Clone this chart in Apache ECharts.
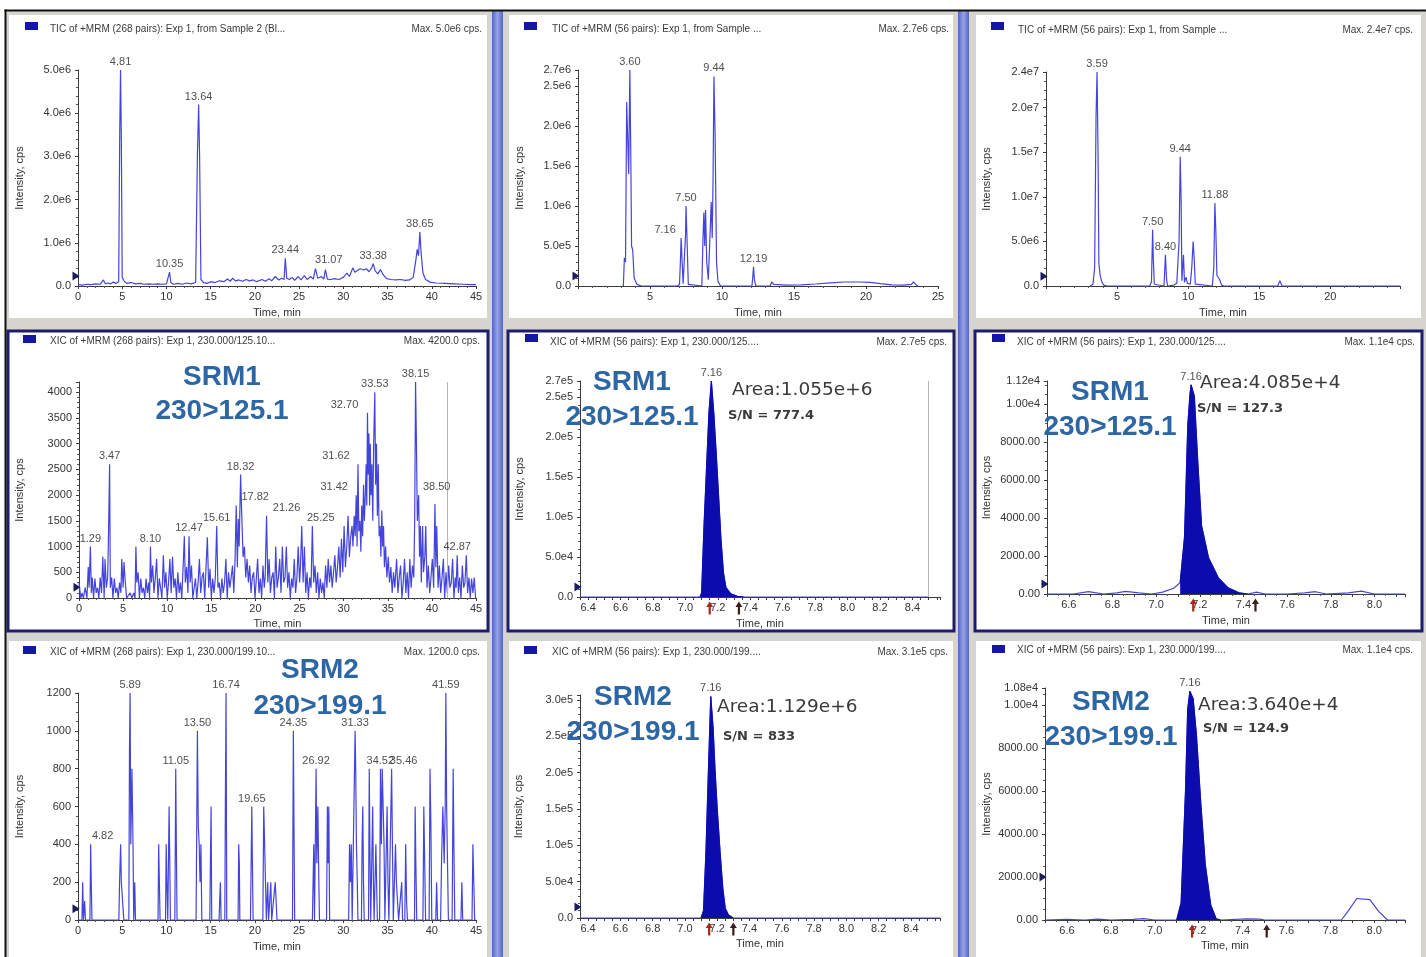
<!DOCTYPE html>
<html>
<head>
<meta charset="utf-8">
<script src="https://cdn.jsdelivr.net/npm/echarts@6/dist/echarts.min.js"></script>
<style>
html, body { margin: 0; padding: 0; background: #ffffff; }
#chart { width: 1426px; height: 957px; }
</style>
</head>
<body>
<div id="chart"></div>
<script>
// ---------------- chromatogram data: [time (min), intensity (cps)] ----------------

// TIC, 268 pairs
const p1Trace = [
  [0,0.03e6],[0.5,0.02e6],[1.0,0.04e6],[1.5,0.03e6],[2.0,0.05e6],[2.5,0.04e6],[2.87,0.14e6],[3.1,0.05e6],
  [3.4,0.07e6],[3.7,0.05e6],[4.0,0.09e6],[4.3,0.06e6],[4.6,0.1e6],[4.72,3.6e6],[4.81,5.0e6],[4.9,3.4e6],
  [5.0,0.2e6],[5.2,0.12e6],[5.5,0.06e6],[6.0,0.08e6],[6.5,0.05e6],[7.0,0.06e6],[7.5,0.04e6],[8.0,0.05e6],
  [8.5,0.04e6],[9.0,0.05e6],[9.5,0.04e6],[10.0,0.05e6],[10.2,0.08e6],[10.35,0.32e6],[10.5,0.08e6],[10.8,0.04e6],
  [11.3,0.06e6],[11.8,0.04e6],[12.3,0.07e6],[12.8,0.05e6],[13.3,0.08e6],[13.5,3.0e6],[13.64,4.2e6],[13.75,3.0e6],
  [13.9,0.15e6],[14.2,0.08e6],[14.6,0.06e6],[15.0,0.1e6],[15.5,0.08e6],[16.0,0.12e6],[16.5,0.1e6],[16.9,0.16e6],
  [17.2,0.11e6],[17.5,0.18e6],[17.8,0.12e6],[18.2,0.14e6],[18.6,0.11e6],[19.0,0.15e6],[19.4,0.12e6],[19.8,0.14e6],
  [20.2,0.1e6],[20.8,0.15e6],[21.2,0.11e6],[21.6,0.17e6],[21.9,0.12e6],[22.3,0.22e6],[22.7,0.14e6],[23.0,0.18e6],
  [23.3,0.15e6],[23.44,0.64e6],[23.6,0.18e6],[23.9,0.15e6],[24.2,0.2e6],[24.5,0.13e6],[24.9,0.22e6],[25.2,0.14e6],
  [25.6,0.24e6],[25.9,0.15e6],[26.3,0.22e6],[26.6,0.16e6],[26.85,0.4e6],[27.1,0.18e6],[27.5,0.22e6],[27.8,0.16e6],
  [27.97,0.38e6],[28.2,0.16e6],[28.6,0.15e6],[29.0,0.17e6],[29.5,0.15e6],[30.0,0.2e6],[30.4,0.3e6],[30.7,0.22e6],
  [31.07,0.42e6],[31.3,0.32e6],[31.6,0.36e6],[31.9,0.4e6],[32.3,0.37e6],[32.6,0.4e6],[32.9,0.33e6],[33.2,0.42e6],
  [33.38,0.52e6],[33.6,0.35e6],[33.9,0.28e6],[34.2,0.38e6],[34.5,0.26e6],[34.9,0.17e6],[35.4,0.15e6],[35.9,0.14e6],
  [36.5,0.15e6],[37.0,0.13e6],[37.5,0.14e6],[37.9,0.2e6],[38.2,0.6e6],[38.35,0.85e6],[38.5,0.7e6],[38.65,1.25e6],
  [38.8,0.75e6],[39.0,0.3e6],[39.3,0.15e6],[39.8,0.09e6],[40.5,0.07e6],[41.5,0.06e6],[42.5,0.05e6],[43.5,0.04e6],
  [44.5,0.03e6],[45,0.03e6]
];
const p1Peaks = [4.81, 10.35, 13.64, 23.44, 31.07, 33.38, 38.65];

// TIC, 56 pairs (sample A)
const p2Trace = [
  [3.15,0],[3.22,0.35e6],[3.3,0.3e6],[3.38,2.3e6],[3.46,2.32e6],[3.52,1.4e6],[3.6,2.7e6],[3.66,1.75e6],
  [3.72,0.5e6],[3.8,0.45e6],[3.9,0.1e6],[4.1,0.02e6],[4.4,0],[6.9,0],[7.05,0.02e6],[7.12,0.35e6],
  [7.16,0.6e6],[7.22,0.35e6],[7.3,0.03e6],[7.42,0.05e6],[7.47,0.65e6],[7.5,1.0e6],[7.56,0.65e6],[7.66,0.02e6],
  [8.6,0],[8.68,0.6e6],[8.74,0.92e6],[8.8,0.5e6],[8.86,0.95e6],[8.94,0.3e6],[9.05,0.08e6],[9.15,0.55e6],
  [9.25,1.05e6],[9.32,0.6e6],[9.38,1.35e6],[9.44,2.62e6],[9.52,1.9e6],[9.62,0.3e6],[9.72,0.06e6],[9.9,0],
  [12.08,0],[12.14,0.12e6],[12.19,0.24e6],[12.25,0.08e6],[12.35,0],[13.35,0],[13.45,0.05e6],[13.6,0.02e6],
  [14.5,0.01e6],[15.5,0.015e6],[16.5,0.025e6],[17.5,0.04e6],[18.5,0.05e6],[19.5,0.05e6],[20.3,0.045e6],[21.0,0.03e6],
  [21.8,0.015e6],[22.6,0.01e6],[23.15,0.02e6],[23.3,0.05e6],[23.45,0.02e6],[23.6,0]
];
const p2Peaks = [3.60, 7.16, 7.50, 9.44, 12.19];

// TIC, 56 pairs (sample B)
const p3Trace = [
  [3.1,0],[3.3,0.2e6],[3.42,2.0e6],[3.52,1.9e7],[3.59,2.4e7],[3.66,1.5e7],[3.72,2.5e6],[3.8,1.3e6],
  [3.9,0.6e6],[4.05,0.1e6],[4.3,0],[7.3,0],[7.42,0.5e6],[7.5,6.3e6],[7.55,3.0e6],[7.62,0.2e6],
  [7.7,0],[8.3,0],[8.4,3.5e6],[8.48,0.8e6],[8.55,0],[9.0,0.1e6],[9.2,0.3e6],[9.36,5.0e6],
  [9.44,1.45e7],[9.5,1.0e7],[9.56,0.6e6],[9.67,3.5e6],[9.74,0.4e6],[9.85,1.0e6],[9.95,0.3e6],[10.15,0.2e6],
  [10.25,2.0e6],[10.35,5.0e6],[10.42,3.2e6],[10.5,0.2e6],[10.6,0],[11.7,0],[11.8,2.0e6],[11.88,9.3e6],
  [11.95,6.0e6],[12.02,1.2e6],[12.12,1.0e6],[12.22,0.7e6],[12.35,0.1e6],[12.5,0],[16.3,0],[16.45,0.6e6],
  [16.6,0],[24.9,0]
];
const p3Peaks = [3.59, 7.50, 8.40, 9.44, 11.88];

// XIC 230.000/125.10, 268 pairs
const p4Trace = [
  [0.0,300],[0.2,0],[0.35,100],[0.5,0],[0.7,200],[0.9,0],[1.05,600],[1.15,200],[1.29,1000],[1.4,100],
  [1.5,400],[1.65,0],[1.8,380],[1.95,100],[2.1,200],[2.25,0],[2.4,400],[2.55,100],[2.7,800],[2.85,0],
  [2.95,760],[3.1,200],[3.25,400],[3.35,1280],[3.47,2600],[3.55,200],[3.7,400],[3.85,0],[4.0,380],[4.15,100],
  [4.3,200],[4.45,0],[4.6,300],[4.75,100],[4.85,760],[5.0,200],[5.1,700],[5.25,300],[5.4,0],[5.6,0],
  [5.8,100],[6.0,0],[6.2,100],[6.35,0],[6.45,1000],[6.55,300],[6.7,500],[6.85,0],[7.0,380],[7.15,100],
  [7.3,200],[7.45,0],[7.6,380],[7.75,100],[7.9,300],[8.0,0],[8.1,1000],[8.2,300],[8.35,630],[8.5,100],
  [8.65,400],[8.8,760],[8.95,0],[9.1,380],[9.25,200],[9.4,0],[9.56,830],[9.7,200],[9.85,500],[10.0,0],
  [10.15,300],[10.3,760],[10.45,100],[10.6,800],[10.75,200],[10.9,380],[11.05,0],[11.2,500],[11.35,100],[11.5,300],
  [11.65,0],[11.8,600],[11.94,1200],[12.05,300],[12.2,600],[12.35,100],[12.47,1200],[12.6,300],[12.75,630],[12.9,0],
  [13.05,200],[13.2,380],[13.35,0],[13.5,300],[13.65,760],[13.8,100],[13.95,400],[14.1,500],[14.25,0],[14.4,600],
  [14.55,1180],[14.7,200],[14.85,570],[15.0,0],[15.15,380],[15.3,100],[15.45,400],[15.61,1400],[15.75,200],[15.9,300],
  [16.05,0],[16.2,380],[16.35,100],[16.5,300],[16.65,760],[16.8,0],[16.95,500],[17.1,200],[17.25,400],[17.4,630],
  [17.55,100],[17.7,800],[17.82,1800],[17.95,600],[18.05,1540],[18.15,1000],[18.32,2400],[18.45,1600],[18.6,800],[18.75,1000],
  [18.9,400],[19.05,760],[19.2,300],[19.35,630],[19.5,100],[19.65,400],[19.8,500],[19.95,0],[20.1,380],[20.25,760],
  [20.4,100],[20.55,380],[20.7,0],[20.85,630],[21.0,200],[21.1,400],[21.26,1600],[21.4,300],[21.55,760],[21.7,100],
  [21.85,400],[22.0,500],[22.15,0],[22.3,1000],[22.45,200],[22.6,400],[22.75,760],[22.9,100],[23.05,1000],[23.2,300],
  [23.35,400],[23.5,1000],[23.65,200],[23.8,500],[23.95,0],[24.1,380],[24.25,200],[24.4,760],[24.55,100],[24.7,400],
  [24.85,1000],[25.0,300],[25.1,600],[25.25,1400],[25.4,300],[25.55,1000],[25.7,100],[25.85,500],[26.0,0],[26.15,400],
  [26.3,200],[26.45,1400],[26.6,300],[26.75,630],[26.9,100],[27.05,500],[27.2,0],[27.35,380],[27.5,100],[27.65,300],
  [27.8,0],[27.95,630],[28.1,200],[28.25,760],[28.4,300],[28.55,630],[28.7,200],[28.85,500],[29.0,830],[29.15,300],
  [29.3,600],[29.45,1000],[29.6,400],[29.75,1150],[29.9,500],[30.05,1400],[30.2,600],[30.35,1000],[30.5,1600],[30.65,800],
  [30.8,1200],[30.95,1400],[31.05,1000],[31.2,1600],[31.3,1200],[31.42,2000],[31.52,1000],[31.62,2600],[31.72,1300],[31.85,1500],
  [31.95,900],[32.05,1800],[32.15,1200],[32.25,2200],[32.35,1500],[32.45,2000],[32.55,2600],[32.62,1800],[32.70,3600],[32.78,2400],
  [32.86,3200],[32.94,1800],[33.02,3000],[33.1,2000],[33.2,2600],[33.3,1500],[33.4,3000],[33.53,4000],[33.62,2200],[33.72,3000],
  [33.82,1600],[33.92,2600],[34.02,1200],[34.12,1400],[34.22,800],[34.32,1700],[34.42,1000],[34.52,1400],[34.62,600],[34.75,1000],
  [34.9,400],[35.05,800],[35.2,300],[35.35,600],[35.5,100],[35.65,500],[35.8,200],[36.0,760],[36.15,100],[36.3,400],
  [36.45,630],[36.6,0],[36.75,300],[36.9,760],[37.05,100],[37.2,500],[37.35,0],[37.5,760],[37.65,200],[37.8,630],
  [37.95,400],[38.05,1500],[38.15,4200],[38.25,3000],[38.35,1500],[38.5,2000],[38.6,800],[38.7,1400],[38.8,300],[38.95,1400],
  [39.05,500],[39.2,800],[39.3,1400],[39.45,200],[39.6,630],[39.75,100],[39.9,400],[40.05,760],[40.2,200],[40.35,1830],
  [40.45,600],[40.55,1400],[40.7,200],[40.85,630],[41.0,100],[41.15,400],[41.3,760],[41.45,0],[41.6,500],[41.75,100],
  [41.9,630],[42.05,200],[42.2,300],[42.35,760],[42.5,0],[42.65,400],[42.75,200],[42.87,830],[43.0,100],[43.15,400],
  [43.3,0],[43.45,630],[43.6,200],[43.75,300],[43.9,830],[44.05,100],[44.2,400],[44.35,0],[44.5,380],[44.65,100],
  [44.8,400],[44.95,0]
];
const p4Peaks = [1.29, 3.47, 8.10, 12.47, 15.61, 17.82, 18.32, 21.26, 25.25, 31.42, 31.62, 32.70, 33.53, 38.15, 38.50, 42.87];
const p4Guides = [41.7];

// XIC 230.000/125..., 56 pairs (sample A)
const p5Trace = [
  [6.35,0],[7.09,0],[7.1,5000],[7.115,9.0e4],[7.13,1.6e5],[7.145,2.3e5],[7.16,2.7e5],[7.175,2.3e5],
  [7.19,1.8e5],[7.205,1.25e5],[7.22,7.0e4],[7.235,3.0e4],[7.25,1.2e4],[7.28,4000],[7.32,800],[7.36,0],[8.5,0]
];
const p5Peaks = [7.16];
const p5Window = [7.09, 7.36];
const p5Marks = [7.15, 7.33];
const p5Guides = [8.5];

// XIC 230.000/125..., 56 pairs (sample B)
const p6Trace = [
  [6.5,0],[6.62,0],[6.69,120],[6.76,0],[6.82,60],[6.86,140],[6.92,60],[6.98,0],[7.03,100],[7.08,300],
  [7.11,600],[7.13,3000],[7.145,8900],[7.155,10500],[7.16,11000],[7.175,10400],[7.19,7100],[7.208,3600],
  [7.24,1900],[7.285,850],[7.33,320],[7.38,60],[7.42,0],[7.46,100],[7.5,0],[7.6,0],[7.68,60],[7.73,120],
  [7.78,0],[7.88,60],[7.94,150],[8.0,0],[8.14,0]
];
const p6Peaks = [7.16];
const p6Window = [7.1, 7.42];
const p6Marks = [7.17, 7.455];

// XIC 230.000/199.10, 268 pairs
const p7Trace = [
  [0,0],[0.45,0],[0.53,200],[0.62,0],[0.75,100],[0.85,0],[1.35,0],[1.43,400],[1.5,200],[1.58,0],
  [4.62,0],[4.7,200],[4.82,400],[4.9,200],[5.05,200],[5.18,0],[5.75,0],[5.82,900],[5.89,1200],[5.97,400],
  [6.1,800],[6.22,400],[6.3,0],[6.42,200],[6.5,0],[9.05,0],[9.12,400],[9.2,200],[9.28,0],[9.9,0],
  [9.97,400],[10.05,200],[10.15,0],[10.3,600],[10.38,300],[10.45,0],[10.95,0],[11.05,800],[11.12,400],[11.2,0],
  [13.35,0],[13.5,1000],[13.6,500],[13.7,400],[13.8,200],[13.9,400],[14.0,0],[14.9,0],[14.97,300],[15.05,600],
  [15.12,0],[15.95,0],[16.02,100],[16.1,200],[16.18,0],[16.6,0],[16.66,600],[16.74,1200],[16.82,0],[18.1,0],
  [18.17,400],[18.24,300],[18.3,0],[19.5,0],[19.65,600],[19.72,300],[19.8,0],[20.9,0],[21.0,600],[21.1,400],
  [21.2,200],[21.3,0],[21.45,200],[21.55,0],[21.8,200],[21.9,0],[22.3,200],[22.4,100],[22.5,0],[24.25,0],
  [24.35,1000],[24.42,500],[24.5,0],[26.5,0],[26.58,200],[26.66,400],[26.74,0],[26.85,0],[26.92,800],[27.0,300],
  [27.12,600],[27.2,300],[27.3,0],[28.1,0],[28.2,600],[28.28,300],[28.36,600],[28.45,0],[30.6,0],[30.7,400],
  [30.8,200],[30.9,400],[31.0,0],[31.2,0],[31.33,1000],[31.4,800],[31.48,400],[31.58,200],[31.65,0],[32.05,0],
  [32.12,400],[32.2,600],[32.28,200],[32.36,0],[32.85,0],[32.93,800],[33.0,400],[33.1,0],[33.25,0],[33.32,600],
  [33.4,200],[33.48,0],[33.6,0],[33.68,400],[33.76,200],[33.85,0],[34.1,0],[34.2,800],[34.3,400],[34.4,800],
  [34.52,800],[34.6,400],[34.7,0],[34.85,0],[34.95,600],[35.05,200],[35.15,0],[35.3,0],[35.46,800],[35.55,400],
  [35.65,0],[35.8,0],[35.9,400],[36.0,200],[36.15,200],[36.25,0],[36.6,200],[36.7,0],[36.95,0],[37.05,400],
  [37.15,100],[37.25,0],[38.05,0],[38.12,600],[38.2,300],[38.3,0],[39.0,0],[39.1,600],[39.2,300],[39.3,0],
  [39.7,0],[39.8,800],[39.9,500],[40.0,0],[40.45,0],[40.55,200],[40.65,0],[41.0,0],[41.1,300],[41.25,600],
  [41.4,300],[41.52,600],[41.59,1200],[41.68,600],[41.78,300],[41.88,0],[42.3,0],[42.42,800],[42.5,400],[42.6,0],
  [43.3,0],[43.4,200],[43.5,0],[44.55,0],[44.65,400],[44.75,200],[44.85,0],[45,0]
];
const p7Peaks = [4.82, 5.89, 11.05, 13.50, 16.74, 19.65, 24.35, 26.92, 31.33, 34.52, 35.46, 41.59];

// XIC 230.000/199..., 56 pairs (sample A)
const p8Trace = [
  [6.35,0],[7.1,0],[7.115,1.0e4],[7.13,9.0e4],[7.145,2.0e5],[7.16,3.05e5],[7.175,2.6e5],[7.186,2.06e5],
  [7.2,1.5e5],[7.218,9.0e4],[7.235,4.0e4],[7.25,1.3e4],[7.27,4000],[7.3,0],[8.58,0]
];
const p8Peaks = [7.16];
const p8Window = [7.1, 7.3];
const p8Marks = [7.15, 7.30];

// XIC 230.000/199..., 56 pairs (sample B)
const p9Trace = [
  [6.5,0],[6.6,30],[6.68,0],[6.74,40],[6.8,0],[6.9,30],[6.95,60],[7.0,0],[7.1,0],[7.12,800],
  [7.14,6000],[7.15,9800],[7.16,10650],[7.175,10300],[7.19,8600],[7.21,5400],[7.23,2600],[7.255,700],
  [7.28,50],[7.3,0],[7.42,50],[7.48,40],[7.5,0],[7.85,0],[7.88,400],[7.92,1000],[7.98,950],[8.02,400],
  [8.06,0],[8.14,0]
];
const p9Peaks = [7.16];
const p9Window = [7.1, 7.3];
const p9Marks = [7.17, 7.51];

// baseline threshold markers (cps)
const thresholds = [0.23e6, 1.25e5, 1.1e6, 210, 1.25e4, 520, 60, 1.5e4, 2000];

// ---------------- tick labels ----------------
const xTicks45 = [0, 5, 10, 15, 20, 25, 30, 35, 40, 45];
const xTicks25 = [5, 10, 15, 20, 25];
const xTicks20 = [5, 10, 15, 20];
const xTicksA = [6.4, 6.6, 6.8, 7.0, 7.2, 7.4, 7.6, 7.8, 8.0, 8.2, 8.4];
const xTicksB = [6.6, 6.8, 7.0, 7.2, 7.4, 7.6, 7.8, 8.0];
const p1YTicks = [0, 1e6, 2e6, 3e6, 4e6, 5e6];
const p2YTicks = [0, 5e5, 1e6, 1.5e6, 2e6, 2.5e6, 2.7e6];
const p3YTicks = [0, 5e6, 1e7, 1.5e7, 2e7, 2.4e7];
const p4YTicks = [0, 500, 1000, 1500, 2000, 2500, 3000, 3500, 4000];
const p5YTicks = [0, 5e4, 1e5, 1.5e5, 2e5, 2.5e5, 2.7e5];
const p6YTicks = [0, 2000, 4000, 6000, 8000, 10000, 11200];
const p7YTicks = [0, 200, 400, 600, 800, 1000, 1200];
const p8YTicks = [0, 5e4, 1e5, 1.5e5, 2e5, 2.5e5, 3e5];
const p9YTicks = [0, 2000, 4000, 6000, 8000, 10000, 10800];

// ---------------- text ----------------
const headTitles = [
  'TIC of +MRM (268 pairs): Exp 1, from Sample 2 (Bl...',
  'TIC of +MRM (56 pairs): Exp 1, from Sample ...',
  'TIC of +MRM (56 pairs): Exp 1, from Sample ...',
  'XIC of +MRM (268 pairs): Exp 1, 230.000/125.10...',
  'XIC of +MRM (56 pairs): Exp 1, 230.000/125....',
  'XIC of +MRM (56 pairs): Exp 1, 230.000/125....',
  'XIC of +MRM (268 pairs): Exp 1, 230.000/199.10...',
  'XIC of +MRM (56 pairs): Exp 1, 230.000/199....',
  'XIC of +MRM (56 pairs): Exp 1, 230.000/199....'
];
const headMax = ['Max. 5.0e6 cps.', 'Max. 2.7e6 cps.', 'Max. 2.4e7 cps.', 'Max. 4200.0 cps.', 'Max. 2.7e5 cps.',
  'Max. 1.1e4 cps.', 'Max. 1200.0 cps.', 'Max. 3.1e5 cps.', 'Max. 1.1e4 cps.'];
const srmNames = ['SRM1', 'SRM1', 'SRM1', 'SRM2', 'SRM2', 'SRM2'];
const srmTransitions = ['230>125.1', '230>125.1', '230>125.1', '230>199.1', '230>199.1', '230>199.1'];
const areaTexts = ['Area:1.055e+6', 'Area:4.085e+4', 'Area:1.129e+6', 'Area:3.640e+4'];
const snTexts = ['S/N = 777.4', 'S/N = 127.3', 'S/N = 833', 'S/N = 124.9'];

// ---------------- styling & layout ----------------
const FONT = '"Liberation Sans", Arial, sans-serif';
const AXIS_COLOR = '#3a3a3a';
const TRACE_COLOR = '#4444dc';
const FILL_COLOR = '#0c0cae';
const SRM_COLOR = '#2d66a4';

const fmt = {
  int: v => String(Math.round(v)),
  one: v => v.toFixed(1),
  sci: v => v === 0 ? '0.0' : v.toExponential(1).replace('e+', 'e'),
  fix2: v => v >= 10000 ? v.toExponential(2).replace('e+', 'e') : v.toFixed(2)
};
function onList(list, v) {
  return list.some(t => Math.abs(t - v) <= 1e-6 * Math.max(1, Math.abs(t)));
}
function valueAt(trace, t) {
  const p = trace.find(d => Math.abs(d[0] - t) < 1e-9);
  return p ? p[1] : null;
}

const arrowPath = 'path://M5,0 L10,6 L6.6,6 L6.6,14 L3.4,14 L3.4,6 L0,6 Z';

const panels = [
  { trace: p1Trace, peaks: p1Peaks, grid: [78, 70, 398, 216], xr: [0, 45, 5, 5], yr: [0, 5e6, 1e6, 5],
    xt: xTicks45, yt: p1YTicks, xf: 'int', yf: 'sci', yGap: 53, xGap: 21, shift: { '31.07': -24 },
    head: [25, 22, 50, 29, 482] },
  { trace: p2Trace, peaks: p2Peaks, grid: [578, 70, 360, 216], xr: [0, 25, 5, 5], yr: [0, 2.7e6, 5e5, 5],
    xt: xTicks25, yt: p2YTicks, xf: 'int', yf: 'sci', yGap: 53, xGap: 21, shift: { '7.16': -16 },
    head: [524, 22, 552, 29, 949] },
  { trace: p3Trace, peaks: p3Peaks, grid: [1046, 72, 354, 214], xr: [0, 24.9, 5, 5], yr: [0, 2.4e7, 5e6, 5],
    xt: xTicks20, yt: p3YTicks, xf: 'int', yf: 'sci', yGap: 54, xGap: 21, shift: {},
    head: [991, 22, 1018, 30, 1413] },
  { trace: p4Trace, peaks: p4Peaks, grid: [79, 382, 397, 216], xr: [0, 45, 5, 5], yr: [0, 4200, 500, 5],
    xt: xTicks45, yt: p4YTicks, xf: 'int', yf: 'int', yGap: 54, xGap: 20,
    shift: { '17.82': 19, '21.26': 20, '25.25': 19, '31.42': -22, '31.62': -22, '32.70': -23, '38.50': 18 },
    guides: p4Guides, head: [23, 335, 50, 341, 480], srm: [222, 377, 411] },
  { trace: p5Trace, peaks: p5Peaks, grid: [580, 381, 360, 216], xr: [6.35, 8.57, 0.05, 0], yr: [0, 2.7e5, 5e4, 5],
    xt: xTicksA, yt: p5YTicks, xf: 'one', yf: 'sci', yGap: 55, xGap: 21, shift: {},
    win: p5Window, marks: p5Marks, guides: p5Guides, head: [525, 334, 550, 342, 947],
    srm: [632, 382, 417], area: [0, 732, 390, 728, 416] },
  { trace: p6Trace, peaks: p6Peaks, grid: [1047, 381, 358, 213], xr: [6.5, 8.14, 0.1, 2], yr: [0, 11200, 2000, 4],
    xt: xTicksB, yt: p6YTicks, xf: 'one', yf: 'fix2', yGap: 55, xGap: 21, shift: {},
    win: p6Window, marks: p6Marks, head: [992, 334, 1017, 342, 1415],
    srm: [1110, 392, 427], area: [1, 1200, 383, 1197, 409] },
  { trace: p7Trace, peaks: p7Peaks, grid: [78, 693, 398, 227], xr: [0, 45, 5, 5], yr: [0, 1200, 200, 4],
    xt: xTicks45, yt: p7YTicks, xf: 'int', yf: 'int', yGap: 53, xGap: 21,
    shift: { '4.82': -18, '34.52': -3, '35.46': 12 }, head: [23, 646, 50, 652, 480], srm: [320, 670, 706] },
  { trace: p8Trace, peaks: p8Peaks, grid: [580, 695, 360, 223], xr: [6.35, 8.58, 0.05, 0], yr: [0, 3.07e5, 5e4, 5],
    xt: xTicksA, yt: p8YTicks, xf: 'one', yf: 'sci', yGap: 56, xGap: 20, shift: {},
    win: p8Window, marks: p8Marks, head: [524, 646, 552, 652, 948],
    srm: [633, 697, 732], area: [2, 717, 707, 723, 737] },
  { trace: p9Trace, peaks: p9Peaks, grid: [1045, 688, 360, 232], xr: [6.5, 8.14, 0.1, 2], yr: [0, 10800, 2000, 4],
    xt: xTicksB, yt: p9YTicks, xf: 'one', yf: 'fix2', yGap: 53, xGap: 20, shift: {},
    win: p9Window, marks: p9Marks, head: [992, 645, 1017, 650, 1413],
    srm: [1111, 702, 737], area: [3, 1198, 705, 1203, 729] }
];

// panel frames
const ROWS = [[15, 318], [331, 632], [641, 957]];
const COLS = [[9, 487], [509, 953], [976, 1421]];

const elements = [];
elements.push({ type: 'rect', z: -20, shape: { x: 6, y: 11, width: 1420, height: 946 }, style: { fill: '#d6d4ce' } });
ROWS.forEach(r => COLS.forEach(c => {
  elements.push({ type: 'rect', z: -19, shape: { x: c[0], y: r[0], width: c[1] - c[0], height: r[1] - r[0] },
    style: { fill: '#ffffff' } });
}));
[492, 958].forEach(x => {
  elements.push({ type: 'rect', z: -18, shape: { x: x, y: 11, width: 11, height: 946 },
    style: { fill: new echarts.graphic.LinearGradient(0, 0, 1, 0, [
      { offset: 0, color: '#5366c6' }, { offset: 0.5, color: '#95a2e4' }, { offset: 1, color: '#5366c6' }]) } });
});
COLS.forEach(c => {
  elements.push({ type: 'rect', z: -17, shape: { x: c[0] - 1, y: 331, width: c[1] - c[0] + 2, height: 300 },
    style: { fill: null, stroke: '#1d1d6c', lineWidth: 3 } });
});
elements.push({ type: 'rect', z: -16, shape: { x: 4.5, y: 9.5, width: 1421.5, height: 2 }, style: { fill: '#111111' } });
elements.push({ type: 'rect', z: -16, shape: { x: 4.5, y: 9.5, width: 2, height: 947.5 }, style: { fill: '#111111' } });

const option = {
  animation: false,
  backgroundColor: '#ffffff',
  textStyle: { fontFamily: FONT },
  grid: [], xAxis: [], yAxis: [], series: [],
  graphic: { elements: elements }
};

panels.forEach((p, i) => {
  const [gl, gt, gw, gh] = p.grid;
  option.grid.push({ left: gl, top: gt, width: gw, height: gh, containLabel: false });

  option.xAxis.push({
    type: 'value', gridIndex: i, min: p.xr[0], max: p.xr[1], interval: p.xr[2],
    axisLine: { onZero: false, lineStyle: { color: AXIS_COLOR, width: 1 } },
    axisTick: { show: true, length: 3, lineStyle: { color: AXIS_COLOR } },
    minorTick: { show: p.xr[3] > 0, splitNumber: p.xr[3] || 5, length: 2, lineStyle: { color: '#555' } },
    splitLine: { show: false },
    axisLabel: { fontSize: 11, color: '#333', margin: 5, showMinLabel: true, showMaxLabel: true,
      formatter: v => onList(p.xt, v) ? fmt[p.xf](v) : '' },
    name: 'Time, min', nameLocation: 'middle', nameGap: p.xGap,
    nameTextStyle: { fontSize: 11, color: '#333', fontFamily: FONT }
  });

  option.yAxis.push({
    type: 'value', gridIndex: i, min: p.yr[0], max: p.yr[1], interval: p.yr[2],
    axisLine: { show: true, onZero: false, lineStyle: { color: AXIS_COLOR, width: 1 } },
    axisTick: { show: true, length: 3, lineStyle: { color: AXIS_COLOR } },
    minorTick: { show: true, splitNumber: p.yr[3], length: 2, lineStyle: { color: '#555' } },
    splitLine: { show: false },
    axisLabel: { fontSize: 11, color: '#333', margin: 7, showMinLabel: true, showMaxLabel: true,
      formatter: v => onList(p.yt, v) ? fmt[p.yf](v) : '' },
    name: 'Intensity, cps', nameLocation: 'middle', nameGap: p.yGap, nameRotate: 90,
    nameTextStyle: { fontSize: 11, color: '#333', fontFamily: FONT }
  });

  // markers: baseline threshold triangle and integration arrows
  const markData = [{
    coord: [p.xr[0], thresholds[i]], symbol: 'triangle', symbolSize: [9, 7], symbolRotate: -90,
    symbolOffset: [-2, 0], itemStyle: { color: '#1b1b5e' }
  }];
  (p.marks || []).forEach((t, k) => {
    markData.push({ coord: [t, 0], symbol: arrowPath, symbolSize: [7, 13], symbolOffset: [0, 11],
      itemStyle: { color: k === 0 ? '#a8281e' : '#3a1f1a' } });
  });

  const traceSeries = {
    type: 'line', xAxisIndex: i, yAxisIndex: i, data: p.trace,
    showSymbol: false, symbol: 'none', z: 3,
    lineStyle: { color: TRACE_COLOR, width: 1.2 },
    markPoint: { silent: true, label: { show: false }, data: markData }
  };
  if (p.guides) {
    traceSeries.markLine = { silent: true, symbol: 'none', label: { show: false },
      lineStyle: { color: '#b5b5b5', width: 1, type: 'solid' },
      data: p.guides.map(t => ({ xAxis: t })) };
  }
  option.series.push(traceSeries);

  if (p.win) {
    option.series.push({
      type: 'line', xAxisIndex: i, yAxisIndex: i,
      data: p.trace.filter(d => d[0] >= p.win[0] - 1e-9 && d[0] <= p.win[1] + 1e-9),
      showSymbol: false, symbol: 'none', z: 4,
      lineStyle: { color: FILL_COLOR, width: 1 },
      areaStyle: { color: FILL_COLOR, opacity: 1 }
    });
  }

  // retention-time labels at peak apexes
  option.series.push({
    type: 'scatter', xAxisIndex: i, yAxisIndex: i, z: 6, silent: true,
    symbolSize: 1, itemStyle: { color: 'rgba(0,0,0,0)' },
    data: p.peaks.map(t => {
      const key = t.toFixed(2);
      return { value: [t, valueAt(p.trace, t)], name: key,
        label: { offset: [p.shift[key] || 0, 0] } };
    }),
    label: { show: true, position: 'top', distance: 2, fontSize: 11, color: '#222', fontFamily: FONT,
      formatter: q => q.name }
  });

  // header strip
  const h = p.head;
  elements.push({ type: 'rect', z: 50, shape: { x: h[0], y: h[1], width: 13, height: 8 }, style: { fill: '#1616a6' } });
  elements.push({ type: 'text', z: 50, x: h[2], y: h[3],
    style: { text: headTitles[i], font: '10px ' + FONT, fill: '#3a3a3a', align: 'left', verticalAlign: 'middle' } });
  elements.push({ type: 'text', z: 50, x: h[4], y: h[3],
    style: { text: headMax[i], font: '10px ' + FONT, fill: '#3a3a3a', align: 'right', verticalAlign: 'middle' } });

  // transition annotation
  if (p.srm) {
    const s = p.srm, k = i - 3;
    elements.push({ type: 'text', z: 60, x: s[0], y: s[1],
      style: { text: srmNames[k], font: 'bold 28px ' + FONT, fill: SRM_COLOR, align: 'center', verticalAlign: 'middle' } });
    elements.push({ type: 'text', z: 60, x: s[0], y: s[2],
      style: { text: srmTransitions[k], font: 'bold 28px ' + FONT, fill: SRM_COLOR, align: 'center', verticalAlign: 'middle' } });
  }
  // integration results
  if (p.area) {
    const a = p.area;
    elements.push({ type: 'text', z: 60, x: a[1], y: a[2],
      style: { text: areaTexts[a[0]], font: '18.5px "DejaVu Sans", Verdana, sans-serif', fill: '#3a3a3a',
        align: 'left', verticalAlign: 'middle' } });
    elements.push({ type: 'text', z: 60, x: a[3], y: a[4],
      style: { text: snTexts[a[0]], font: 'bold 13px "DejaVu Sans", Verdana, sans-serif', fill: '#3a3a3a',
        align: 'left', verticalAlign: 'middle' } });
  }
});

const chart = echarts.init(document.getElementById('chart'), null, { renderer: 'canvas' });
chart.setOption(option);
</script>
</body>
</html>
